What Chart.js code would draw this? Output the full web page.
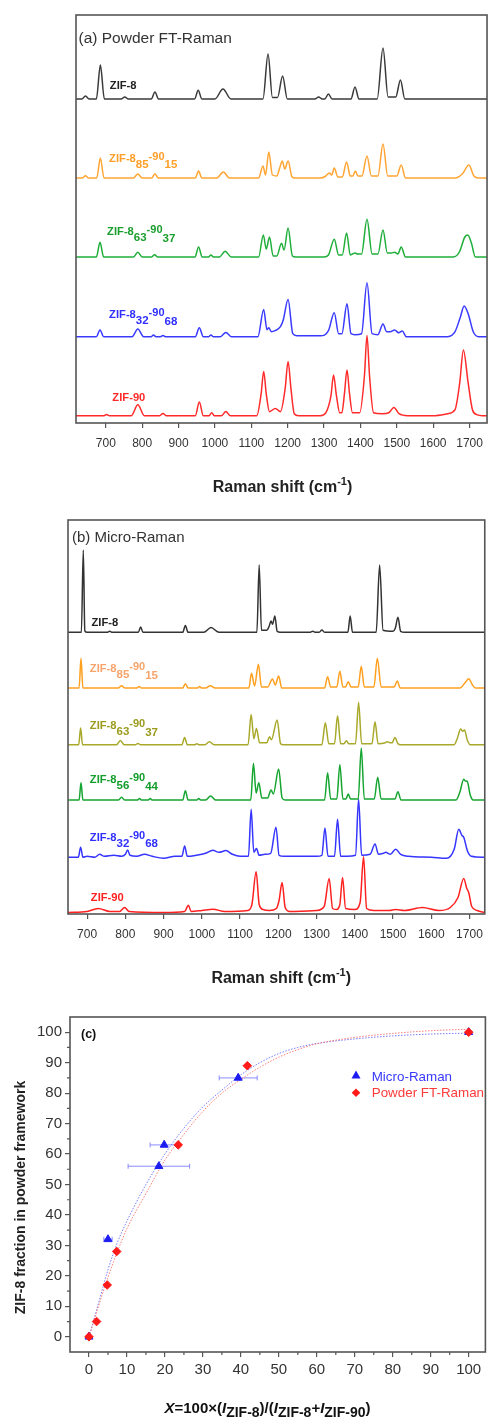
<!DOCTYPE html>
<html><head><meta charset="utf-8">
<script src="https://cdn.jsdelivr.net/npm/chart.js@4.4.1/dist/chart.umd.min.js"></script>
<style>
html,body{margin:0;padding:0;background:#fff;}
body{width:491px;height:1418px;position:relative;overflow:hidden;}
canvas{position:absolute;left:0;}
</style></head><body>
<canvas id="ca" width="491" height="505" style="top:0"></canvas>
<canvas id="cb" width="491" height="500" style="top:505px"></canvas>
<canvas id="cc" width="491" height="413" style="top:1005px"></canvas>
<script>
// ---------------- DATA ----------------
// Panel (a) Powder FT-Raman: [Raman shift cm-1, intensity]
const ticksA = [700,800,900,1000,1100,1200,1300,1400,1500,1600,1700];
const specA_ZIF8 = [[618,0],[634,0],[644,3],[654,0],[674,0],[685,34],[696,0],[742,0],[752,2],[762,0],[825,0],[835,7],[845,0],[944,0],[954,8.7],[964,0],[1000,0],[1022,10],[1044,0],[1132,0],[1146,45],[1158,1.5],[1172,1.5],[1186,23],[1199,0],[1275,0],[1285,2],[1295,0],[1302,0],[1312,5],[1322,0],[1374,0],[1385,12],[1396,0],[1446,0],[1462,51],[1476,2],[1497,2],[1510,19],[1522,0],[1748,0]];
const specA_85 = [[618,0],[636,0],[644,2.3],[652,0],[675,0],[685,20],[695,0],[776,0],[788,4],[800,0],[826,0],[835,4.3],[844,0],[946,0],[955,7],[964,0],[1005,0],[1023,6],[1040,0],[1120,0],[1132,12],[1139,3],[1148,26],[1158,3],[1170,2],[1178,10],[1185,17],[1192,9],[1201,17],[1212,1],[1220,0],[1290,0],[1303,1.5],[1315,5],[1321,3],[1328,10],[1338,1],[1350,1],[1362,16],[1372,2],[1379,2],[1386,7],[1393,2],[1404,2],[1418,22],[1430,2],[1448,2],[1462,34],[1475,2],[1500,2],[1512,13],[1524,0],[1660,0],[1680,4],[1698,13],[1712,2],[1725,0],[1748,0]];
const specA_63 = [[618,0],[674,0],[684,14.7],[694,0],[776,0],[788,4.7],[800,0],[826,0],[834,2.3],[842,0],[945,0],[955,10],[965,0],[982,0],[989,2],[996,0],[1012,0],[1028,5.7],[1045,0],[1120,0],[1133,22],[1141,8],[1150,20],[1160,1],[1170,1],[1183,13.7],[1190,7],[1201,29],[1213,1],[1222,0],[1300,0],[1312,2],[1328,17.7],[1340,2],[1350,2],[1362,24],[1372,2],[1378,3],[1385,4],[1392,3],[1403,3],[1418,37.7],[1432,3],[1448,3],[1462,27],[1474,4],[1485,4],[1494,4.7],[1503,3],[1512,10],[1524,0],[1655,0],[1672,5],[1687,20],[1695,22],[1705,14],[1716,0],[1748,0]];
const specA_32 = [[618,0],[674,0],[684,6.7],[694,0],[772,0],[788,7.7],[804,0],[825,0],[831,1.7],[838,0],[850,0],[857,1.3],[864,0],[946,0],[957,9],[968,0],[983,0],[989,1.7],[995,0],[1015,0],[1030,4.3],[1045,0],[1118,0],[1134,27.3],[1143,7],[1148,9],[1155,5],[1165,6],[1180,10],[1188,17],[1201,37.3],[1214,3],[1225,1],[1290,1],[1312,6],[1328,24],[1340,3],[1349,3],[1363,33],[1374,3],[1385,2],[1403,3],[1418,54],[1432,3],[1448,2],[1462,12.7],[1472,5],[1482,5],[1494,6.7],[1505,4],[1515,5.7],[1526,0],[1640,0],[1660,5],[1675,20],[1685,30.7],[1697,22],[1710,5],[1725,0],[1748,0]];
const specA_ZIF90 = [[618,0],[695,0],[702,1.3],[710,0],[770,0],[788,11],[806,0],[848,0],[857,2.3],[866,0],[946,0],[957,13.7],[968,0],[984,0],[991,3],[998,0],[1018,0],[1030,4.3],[1042,0],[1115,0],[1127,22],[1134,44.3],[1141,22],[1150,4],[1166,7.3],[1180,4],[1193,27],[1201,54.3],[1209,27],[1218,2],[1230,0],[1290,0],[1305,3],[1319,20],[1326,40.7],[1334,20],[1343,3],[1349,3],[1356,22],[1363,45.7],[1370,22],[1378,3],[1398,3],[1411,40],[1418,80.3],[1425,40],[1436,3],[1460,2],[1478,3],[1492,8.3],[1506,2],[1530,0],[1600,0],[1640,2],[1660,6],[1673,33],[1683,65.7],[1696,33],[1708,6],[1720,1],[1735,0],[1748,0]];
const offsetsA = [324, 245, 166, 86.3, 7.3];

// Panel (b) Micro-Raman
const ticksB = [700,800,900,1000,1100,1200,1300,1400,1500,1600,1700];
const specB_ZIF8 = [[650,0],[685,0],[690,82.3],[694,1.5],[700,0],[752,0],[759,1],[766,0],[834,0],[840,5.3],[846,0],[950,0],[957,6.7],[964,0],[1005,0],[1024,4.7],[1045,0],[1144,0],[1150,67.3],[1156,2],[1170,2],[1176,6],[1181,11.3],[1185,8],[1191,16.3],[1197,1],[1205,0],[1282,0],[1290,1],[1298,0],[1307,0],[1314,2.3],[1321,0],[1382,0],[1388,16.3],[1394,0],[1456,0],[1465,67.3],[1474,2],[1500,1],[1506,4],[1513,15],[1520,1],[1530,0],[1740,0]];
const specB_85 = [[650,0],[679,0],[684,29.7],[689,0],[782,0],[790,2.3],[798,0],[830,0],[836,1.5],[842,0],[950,0],[957,4.3],[964,0],[989,0],[994,1.5],[999,0],[1010,0],[1022,2.3],[1035,0],[1123,0],[1130,14.7],[1138,2],[1148,23.7],[1156,1],[1172,1],[1185,9],[1192,3],[1201,12],[1209,0],[1321,0],[1329,11.3],[1337,1],[1353,1],[1361,16.7],[1369,1],[1376,1],[1383,6.3],[1390,1],[1409,1],[1417,21.7],[1425,1],[1450,1],[1459,29.7],[1469,1],[1503,1],[1511,7],[1519,0],[1675,0],[1690,6],[1698,9.3],[1708,3],[1715,0],[1740,0]];
const specB_63 = [[650,0],[678,0],[683,16.7],[688,0],[777,0],[787,4.3],[797,0],[827,0],[833,1.3],[839,0],[948,0],[955,7.3],[962,0],[982,0],[987,1],[992,0],[1008,0],[1020,3],[1032,0],[1121,0],[1129,30.3],[1136,6],[1143,16.3],[1151,2],[1170,2],[1177,8],[1182,5],[1197,24.7],[1206,1],[1213,0],[1314,0],[1323,22],[1332,1],[1347,1],[1355,29],[1363,1],[1372,1],[1378,4],[1384,1],[1402,1],[1410,42.3],[1418,1],[1445,1],[1453,23],[1461,1],[1480,2],[1485,3],[1492,2],[1498,2],[1505,7.3],[1513,1],[1520,0],[1660,0],[1668,6],[1677,15.7],[1682,13.5],[1687,14.7],[1694,5],[1702,0],[1740,0]];
const specB_56 = [[650,0],[679,0],[684,17.3],[689,0],[782,0],[790,2.7],[798,0],[832,0],[837,1.5],[842,0],[860,0],[865,1.5],[870,0],[950,0],[957,9.3],[964,0],[987,0],[992,1.5],[997,0],[1010,0],[1023,4],[1036,0],[1128,0],[1135,36.7],[1142,7],[1149,17.3],[1157,2],[1172,2],[1181,10],[1187,6],[1201,31],[1210,2],[1218,0],[1321,0],[1329,27.3],[1337,1],[1353,1],[1361,35.3],[1369,1],[1377,1],[1383,6],[1389,1],[1409,1],[1417,52],[1425,1],[1451,1],[1460,22.7],[1469,1],[1505,1],[1513,8.3],[1521,0],[1665,0],[1675,8],[1685,20.7],[1689,19],[1694,18.7],[1702,5],[1710,0],[1740,0]];
const specB_32 = [[650,0],[677,0],[683,10],[689,0],[700,1],[720,0],[733,3],[745,1],[770,2],[790,1],[800,3],[806,7.3],[812,2],[830,1],[850,3],[870,1],[900,-1],[930,1],[948,1],[955,11.3],[962,1],[985,2],[1010,4],[1029,7],[1045,5],[1063,6.7],[1080,3],[1100,1],[1122,1],[1129,48],[1136,5],[1143,8.7],[1150,2],[1165,3],[1180,4],[1194,30],[1202,2],[1215,1],[1300,1],[1314,2],[1322,29.3],[1330,1],[1347,1],[1355,38],[1363,1],[1380,1],[1402,2],[1410,58],[1418,2],[1440,3],[1453,13.3],[1462,3],[1475,4],[1481,5],[1493,3],[1507,8],[1520,3],[1540,1],[1600,0],[1640,-1],[1660,8],[1672,28],[1680,22],[1685,20],[1695,6],[1705,1],[1740,0]];
const specB_ZIF90 = [[650,0],[700,1],[729,4],[760,1],[785,1],[798,5],[810,1],[900,0],[955,1],[965,7.3],[972,1],[1000,2],[1029,3.3],[1060,1],[1120,2],[1131,8],[1142,40.7],[1150,8],[1160,3],[1177,2],[1195,4],[1202,12],[1210,30],[1218,5],[1230,1],[1300,2],[1320,6],[1333,34],[1342,4],[1352,3],[1361,8],[1368,35],[1376,4],[1400,3],[1414,10],[1423,55.7],[1431,4],[1450,2],[1490,2],[1507,3],[1530,2],[1577,5],[1620,2],[1650,5],[1670,15],[1685,34],[1693,24],[1698,20],[1706,6],[1720,2],[1740,0]];
const offsetsB = [281.7, 226, 169.3, 114, 56.7, 1.5];

// Panel (c)
const ticksC = [0,10,20,30,40,50,60,70,80,90,100];
const minorTicksC = [5,15,25,35,45,55,65,75,85,95];
const microX = [0, 5, 18.4, 19.8, 39.3, 100];
const microY = [0, 32, 56, 63, 85, 100];
const microXErr = [0, 1.1, 8.1, 3.7, 5, 0];
const powderX = [0, 2, 4.8, 7.3, 23.5, 41.7, 100];
const powderY = [0, 5, 17, 28, 63, 89, 100];
const fitMicroX = [0, 2.5, 5, 7.5, 10, 15, 20, 25, 30, 35, 40, 45, 50, 55, 60, 70, 80, 90, 100];
const fitMicroY = [0, 11, 22, 31, 38, 50, 60, 68.5, 75.5, 81, 86, 90, 93, 95, 96.3, 97.8, 98.8, 99.4, 99.7];
const fitPowderX = [0, 2.5, 5, 7.5, 10, 15, 20, 25, 30, 35, 40, 45, 50, 55, 60, 70, 80, 90, 100];
const fitPowderY = [0, 10, 19.5, 28, 35.5, 47, 58, 66.5, 74, 80, 84.5, 88.5, 91.8, 94.3, 96.2, 98.3, 99.6, 100.5, 101];

// sample names
const namesA = [['ZIF-8'], ['ZIF-8','85','-90','15'], ['ZIF-8','63','-90','37'], ['ZIF-8','32','-90','68'], ['ZIF-90']];
const namesB = [['ZIF-8'], ['ZIF-8','85','-90','15'], ['ZIF-8','63','-90','37'], ['ZIF-8','56','-90','44'], ['ZIF-8','32','-90','68'], ['ZIF-90']];

// ---------------- STYLE / LAYOUT ----------------
const FONT = '"Liberation Sans", Arial, Helvetica, sans-serif';
const colorsA = ['#3a3a3a', '#ffa533', '#1fae3a', '#3a3aff', '#ff2a2a'];
const labelColorsA = ['#222222', '#ff9f2a', '#1a9e2e', '#2f2fff', '#ff2a2a'];
const colorsB = ['#333333', '#ffa020', '#a8a82a', '#15a530', '#3535ff', '#ff2020'];
const labelColorsB = ['#222222', '#f7a46c', '#9b9b1e', '#129e2c', '#2f2fff', '#ff2020'];
const labelAnchorA = {x: [711, 709, 703.5, 709, 718], y: [333.7, 261.3, 188, 104.7, 22.3]};
const labelAnchorB = {x: [711.5, 707, 707, 707, 707, 709.7], y: [288.3, 241.7, 185, 130.7, 73.3, 13.3]};

function drawRuns(ctx, x, y, runs, color, align) {
  ctx.save();
  ctx.fillStyle = color;
  ctx.textBaseline = 'alphabetic';
  ctx.textAlign = 'left';
  let total = 0;
  for (const r of runs) { ctx.font = `${r.st||''} ${r.w||'bold'} ${r.size}px ${FONT}`; total += ctx.measureText(r.t).width; }
  let cx = align === 'center' ? x - total / 2 : x;
  for (const r of runs) {
    ctx.font = `${r.st||''} ${r.w||'bold'} ${r.size}px ${FONT}`;
    ctx.fillText(r.t, cx, y + (r.dy || 0));
    cx += ctx.measureText(r.t).width;
  }
  ctx.restore();
}
function nameRuns(parts) {
  const runs = [{t: parts[0], size: 11.2}];
  if (parts.length > 1) {
    runs.push({t: parts[1], size: 11.5, dy: 5.8});
    runs.push({t: parts[2], size: 11, dy: -2});
    runs.push({t: parts[3], size: 11.5, dy: 6.6});
  }
  return runs;
}
function drawFrame(chart) {
  const {ctx, chartArea: a} = chart;
  ctx.save();
  ctx.strokeStyle = '#555';
  ctx.lineWidth = 1.6;
  ctx.strokeRect(a.left, a.top, a.right - a.left, a.bottom - a.top);
  ctx.restore();
}
function ramanTitle(ctx, cx, by) {
  drawRuns(ctx, cx, by, [
    {t: 'Raman shift (cm', size: 16},
    {t: '-1', size: 11, dy: -7},
    {t: ')', size: 16}
  ], '#222', 'center');
}

function spectrumDataset(points, offset, color) {
  return {
    data: points.map(p => ({x: p[0], y: p[1] + offset})),
    borderColor: color, borderWidth: 1.5, pointRadius: 0, fill: false,
    cubicInterpolationMode: 'monotone'
  };
}
function spectraOptions(xmin, xmax, ymax, ticks, pad, xHeight) {
  return {
    responsive: false, animation: false, events: [],
    layout: {padding: pad},
    plugins: {legend: {display: false}, tooltip: {enabled: false}},
    scales: {
      x: {type: 'linear', min: xmin, max: xmax,
          afterBuildTicks: s => { s.ticks = ticks.map(v => ({value: v})); },
          afterFit: s => { s.height = xHeight; },
          ticks: {autoSkip: false, maxRotation: 0, color: '#333', padding: 8,
                  font: {family: FONT, size: 12}, callback: v => String(v)},
          grid: {drawOnChartArea: false, tickLength: 5, color: '#555', lineWidth: 1.2},
          border: {display: false}},
      y: {type: 'linear', display: false, min: 0, max: ymax}
    }
  };
}

// ---------------- PANEL (a) ----------------
const specsA = [specA_ZIF8, specA_85, specA_63, specA_32, specA_ZIF90];
new Chart(document.getElementById('ca'), {
  type: 'line',
  data: {datasets: specsA.map((s, i) => spectrumDataset(s, offsetsA[i], colorsA[i]))},
  options: spectraOptions(618, 1748, 408, ticksA, {left: 76, top: 15, right: 2, bottom: 0}, 82),
  plugins: [{
    id: 'decoA',
    afterDraw(chart) {
      const ctx = chart.ctx, sx = chart.scales.x, sy = chart.scales.y;
      drawFrame(chart);
      drawRuns(ctx, 78.5, 43, [{t: '(a) Powder FT-Raman', size: 15.5, w: 'normal'}], '#333');
      namesA.forEach((n, i) => drawRuns(ctx, sx.getPixelForValue(labelAnchorA.x[i]), sy.getPixelForValue(labelAnchorA.y[i]), nameRuns(n), labelColorsA[i]));
      ramanTitle(ctx, 282.5, 492);
    }
  }]
});

// ---------------- PANEL (b) ----------------
const specsB = [specB_ZIF8, specB_85, specB_63, specB_56, specB_32, specB_ZIF90];
new Chart(document.getElementById('cb'), {
  type: 'line',
  data: {datasets: specsB.map((s, i) => spectrumDataset(s, offsetsB[i], colorsB[i]))},
  options: spectraOptions(650, 1740, 394, ticksB, {left: 68, top: 15, right: 5, bottom: 0}, 91),
  plugins: [{
    id: 'decoB',
    afterDraw(chart) {
      const ctx = chart.ctx, sx = chart.scales.x, sy = chart.scales.y;
      drawFrame(chart);
      drawRuns(ctx, 72, 37, [{t: '(b) Micro-Raman', size: 15, w: 'normal'}], '#333');
      namesB.forEach((n, i) => drawRuns(ctx, sx.getPixelForValue(labelAnchorB.x[i]), sy.getPixelForValue(labelAnchorB.y[i]), nameRuns(n), labelColorsB[i]));
      ramanTitle(ctx, 281.2, 478);
    }
  }]
});

// ---------------- PANEL (c) ----------------
const toXY = (xs, ys) => xs.map((x, i) => ({x, y: ys[i]}));
new Chart(document.getElementById('cc'), {
  type: 'scatter',
  data: {datasets: [
    {label: 'Powder FT-Raman', data: toXY(powderX, powderY), pointStyle: 'rectRot', pointRadius: 4.3,
     backgroundColor: '#ff1a1a', borderColor: '#ff1a1a', borderWidth: 1},
    {label: 'Micro-Raman', data: toXY(microX, microY), pointStyle: 'triangle', pointRadius: 4.6,
     backgroundColor: '#1c1cf0', borderColor: '#1c1cf0', borderWidth: 1},
    {label: 'fitPowder', data: toXY(fitPowderX, fitPowderY), showLine: true, pointRadius: 0,
     borderColor: 'rgba(255,110,110,0.9)', borderWidth: 1, borderDash: [1.5, 1.5], cubicInterpolationMode: 'monotone'},
    {label: 'fitMicro', data: toXY(fitMicroX, fitMicroY), showLine: true, pointRadius: 0,
     borderColor: 'rgba(110,110,255,0.9)', borderWidth: 1, borderDash: [1.5, 1.5], cubicInterpolationMode: 'monotone'}
  ]},
  options: {
    responsive: false, animation: false, events: [],
    layout: {padding: {left: 0, top: 9, right: 1, bottom: 0}},
    plugins: {legend: {display: false}, tooltip: {enabled: false}},
    scales: {
      x: {type: 'linear', min: -5, max: 104.4,
          afterBuildTicks: s => { s.ticks = ticksC.map(v => ({value: v})); },
          afterFit: s => { s.height = 66; },
          ticks: {autoSkip: false, maxRotation: 0, color: '#333', padding: 4,
                  font: {family: FONT, size: 15}, callback: v => String(v)},
          grid: {drawOnChartArea: false, tickLength: 5, color: '#555', lineWidth: 1.2},
          border: {display: false}},
      y: {type: 'linear', min: -5, max: 105,
          afterBuildTicks: s => { s.ticks = ticksC.map(v => ({value: v})); },
          afterFit: s => { s.width = 70; },
          ticks: {autoSkip: false, color: '#333', padding: 3,
                  font: {family: FONT, size: 15}, callback: v => String(v)},
          grid: {drawOnChartArea: false, tickLength: 5, color: '#555', lineWidth: 1.2},
          border: {display: false}}
    }
  },
  plugins: [{
    id: 'decoC',
    beforeDatasetsDraw(chart) {
      const ctx = chart.ctx, sx = chart.scales.x, sy = chart.scales.y;
      ctx.save();
      ctx.strokeStyle = 'rgba(120,120,255,0.85)';
      ctx.lineWidth = 1;
      microX.forEach((x, i) => {
        const e = microXErr[i];
        if (!e) return;
        const x1 = sx.getPixelForValue(x - e), x2 = sx.getPixelForValue(x + e), py = sy.getPixelForValue(microY[i]);
        ctx.beginPath();
        ctx.moveTo(x1, py); ctx.lineTo(x2, py);
        ctx.moveTo(x1, py - 2.5); ctx.lineTo(x1, py + 2.5);
        ctx.moveTo(x2, py - 2.5); ctx.lineTo(x2, py + 2.5);
        ctx.stroke();
      });
      ctx.restore();
    },
    afterDraw(chart) {
      const ctx = chart.ctx, sx = chart.scales.x, sy = chart.scales.y, a = chart.chartArea;
      drawFrame(chart);
      ctx.save();
      ctx.strokeStyle = '#555'; ctx.lineWidth = 1.2;
      ctx.beginPath();
      minorTicksC.forEach(v => {
        const px = sx.getPixelForValue(v); ctx.moveTo(px, a.bottom); ctx.lineTo(px, a.bottom + 3);
        const py = sy.getPixelForValue(v); ctx.moveTo(a.left - 3, py); ctx.lineTo(a.left, py);
      });
      ctx.stroke();
      ctx.restore();
      drawRuns(ctx, 81, 33, [{t: '(c)', size: 12.5}], '#111');
      // legend
      ctx.save();
      ctx.fillStyle = '#1c1cf0';
      ctx.beginPath(); ctx.moveTo(356, 65.5); ctx.lineTo(360.5, 73.5); ctx.lineTo(351.5, 73.5); ctx.closePath(); ctx.fill();
      ctx.fillStyle = '#ff1a1a';
      ctx.beginPath(); ctx.moveTo(356, 83.5); ctx.lineTo(360.3, 87.8); ctx.lineTo(356, 92.1); ctx.lineTo(351.7, 87.8); ctx.closePath(); ctx.fill();
      ctx.restore();
      drawRuns(ctx, 371.7, 75.7, [{t: 'Micro-Raman', size: 13.4, w: 'normal'}], '#3a3aff');
      drawRuns(ctx, 371.7, 92.3, [{t: 'Powder FT-Raman', size: 13.4, w: 'normal'}], '#ff3a3a');
      // axis titles
      ctx.save();
      ctx.translate(25, 192.5);
      ctx.rotate(-Math.PI / 2);
      drawRuns(ctx, 0, 0, [{t: 'ZIF-8 fraction in powder framework', size: 14}], '#222', 'center');
      ctx.restore();
      drawRuns(ctx, 267.5, 407.7, [
        {t: 'X', size: 15, st: 'italic'}, {t: '=100\u00d7(', size: 15},
        {t: 'I', size: 15, st: 'italic'}, {t: 'ZIF-8', size: 14, dy: 4},
        {t: ')/(', size: 15},
        {t: 'I', size: 15, st: 'italic'}, {t: 'ZIF-8', size: 14, dy: 4},
        {t: '+', size: 15},
        {t: 'I', size: 15, st: 'italic'}, {t: 'ZIF-90', size: 14, dy: 4},
        {t: ')', size: 15}
      ], '#111', 'center');
    }
  }]
});
</script>
</body></html>
